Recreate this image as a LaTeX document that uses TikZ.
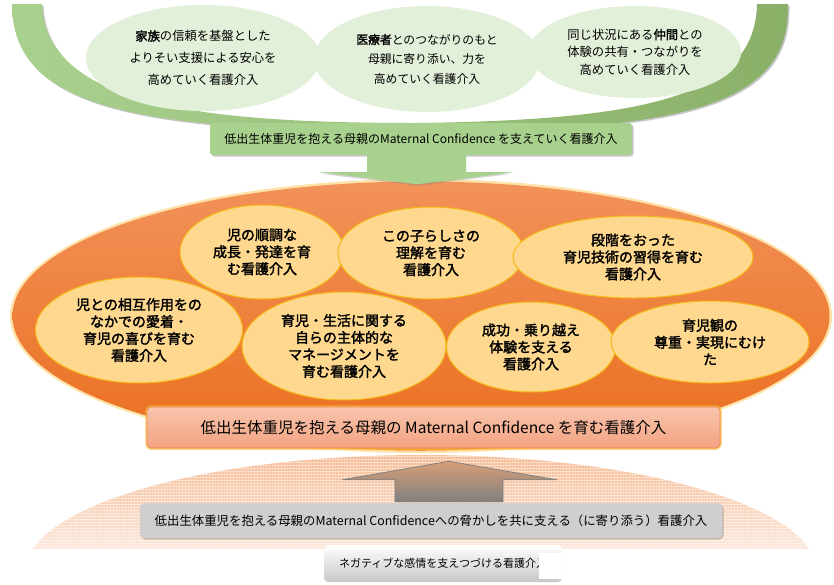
\documentclass[tikz,border=0pt]{standalone}
\usepackage{fontspec}
\setmainfont{Noto Sans CJK JP}[AutoFakeBold=2]
\usetikzlibrary{shapes.geometric,shadows,calc}
\definecolor{bandL}{RGB}{169,209,142}
\definecolor{bandR}{RGB}{138,176,104}
\definecolor{topell}{RGB}{226,239,217}
\definecolor{orTop}{RGB}{242,146,90}
\definecolor{orBot}{RGB}{234,110,30}
\definecolor{orGlow}{RGB}{255,190,60}
\definecolor{inFill}{RGB}{254,216,142}
\definecolor{inDraw}{RGB}{246,184,20}
\definecolor{pkTop}{RGB}{248,196,172}
\definecolor{pkBot}{RGB}{243,163,130}
\definecolor{pkDraw}{RGB}{232,135,80}
\definecolor{grFill}{RGB}{208,206,206}
\definecolor{domeTop}{RGB}{245,180,136}
\definecolor{domeBot}{RGB}{252,236,226}
\definecolor{arrGray}{RGB}{128,128,128}
\tikzset{
  topellipse/.style={ellipse, fill=topell, inner sep=0pt, align=center},
  inellipse/.style={ellipse, fill=inFill, draw=inDraw, line width=1pt, inner sep=0pt, align=center,
     font=\fontsize{14}{17}\selectfont\bfseries},
  softshadow/.style={drop shadow={opacity=0.45, shadow xshift=1.5pt, shadow yshift=-1.5pt}},
  greenbox/.style={rectangle, rounded corners=3pt, fill=bandL, softshadow, inner sep=0pt},
  graybox/.style={rectangle, rounded corners=4pt, fill=grFill, softshadow, inner sep=0pt},
  pinkbox/.style={rectangle, rounded corners=4pt, top color=pkTop, bottom color=pkBot, draw=pkDraw, line width=0.6pt,
     preaction={draw=orGlow, line width=3.5pt, opacity=0.7}, inner sep=0pt},
  whitebox/.style={rectangle, rounded corners=4pt, top color=white, bottom color=black!22, inner sep=0pt},
}
\begin{document}
\begin{tikzpicture}[x=1pt,y=-1pt]
\useasboundingbox (0,0) rectangle (834,584);

% ---- top green crescent ----
\path[softshadow, left color=bandL, middle color=bandL, right color=bandR]
  (12,4) .. controls (12,110) and (140,130) .. (417,132)
         .. controls (700,132) and (790,100) .. (788,4)
  -- (757,4) .. controls (755,95) and (650,120) .. (417,123)
         .. controls (200,123) and (46,105) .. (42,4) -- cycle;

% ---- top ellipses ----
\node[topellipse, minimum width=234pt, minimum height=106pt, font=\fontsize{12.3}{22}\selectfont] (t1) at (203,58)
  {\textbf{家族}の信頼を基盤とした\\よりそい支援による安心を\\高めていく看護介入};
\node[topellipse, minimum width=226pt, minimum height=106pt, font=\fontsize{11.8}{19.5}\selectfont] (t2) at (427,59)
  {\textbf{医療者}とのつながりのもと\\母親に寄り添い、力を\\高めていく看護介入};
\node[topellipse, minimum width=212pt, minimum height=92pt, font=\fontsize{12.3}{17.5}\selectfont] (t3) at (635,52)
  {同じ状況にある\textbf{仲間}との\\体験の共有・つながりを\\高めていく看護介入};

% ---- green label box ----
\node[greenbox, minimum width=422pt, minimum height=32pt, font=\fontsize{12}{14}\selectfont] (gbox) at (421,139)
  {\raisebox{-2pt}{低出生体重児を抱える母親のMaternal Confidence を支えていく看護介入}};

% ---- big orange ellipse ----
\node[ellipse, minimum width=822pt, minimum height=274pt, fill=orGlow, opacity=0.45] (oglow) at (421,316) {};
\node[ellipse, minimum width=817pt, minimum height=269pt, top color=orTop, bottom color=orBot, inner sep=0pt] (oell) at (421,316) {};

% ---- green block arrow (box -> orange ellipse) ----
\path[fill=bandL, drop shadow={opacity=0.35, shadow xshift=0pt, shadow yshift=-1.5pt}]
  ($(gbox.south)+(-54,0)$) -- ($(gbox.south)+(-54,17)$) -- ($(gbox.south)+(-101,17)$)
  -- ($(oell.north)+(-4,3)$) -- ($(gbox.south)+(92,17)$) -- ($(gbox.south)+(45,17)$)
  -- ($(gbox.south)+(45,0)$) -- cycle;

% ---- inner ellipses ----
\node[inellipse, minimum width=164pt, minimum height=94pt] (a) at (262,252) {児の順調な\\成長・発達を育\\む看護介入};
\node[inellipse, minimum width=186pt, minimum height=92pt] (b) at (431,253) {この子らしさの\\理解を育む\\看護介入};
\node[inellipse, minimum width=240pt, minimum height=82pt] (c) at (633,257) {段階をおった\\育児技術の習得を育む\\看護介入};
\node[inellipse, minimum width=207pt, minimum height=106pt] (d) at (139,330) {児との相互作用をの\\なかでの愛着・\\育児の喜びを育む\\看護介入};
\node[inellipse, minimum width=204pt, minimum height=108pt] (e) at (344,346) {育児・生活に関する\\自らの主体的な\\マネージメントを\\育む看護介入};
\node[inellipse, minimum width=169pt, minimum height=90pt] (f) at (531,347) {成功・乗り越え\\体験を支える\\看護介入};
\node[inellipse, minimum width=198pt, minimum height=82pt] (g) at (710,342) {育児観の\\尊重・実現にむけ\\た};

% ---- pink box ----
\node[pinkbox, minimum width=573pt, minimum height=41pt, font=\fontsize{15.5}{18}\selectfont] (pbox) at (433.5,427.5)
  {\raisebox{-4pt}{低出生体重児を抱える母親の Maternal Confidence を育む看護介入}};

% ---- lower dome ----
\begin{scope}
  \clip (0,0) rectangle (834,548);
  \clip (421,572) ellipse [x radius=396, y radius=117];
  \shade[top color=domeTop, bottom color=domeBot] (0,440) rectangle (834,560);
  \foreach \yy in {456,459,...,550} \draw[white, line width=0.9pt, opacity=0.45] (0,\yy) -- (834,\yy);
  \foreach \xx in {20,23,...,830} \draw[white, line width=0.6pt, opacity=0.25] (\xx,440) -- (\xx,560);
\end{scope}

% ---- gray box ----
\node[graybox, minimum width=582pt, minimum height=35pt, font=\fontsize{12.4}{14}\selectfont] (grbox) at (431,520.5)
  {低出生体重児を抱える母親のMaternal Confidenceへの脅かしを共に支える（に寄り添う）看護介入};

% ---- gray block arrow (gray box -> pink box) ----
\coordinate (gb) at ($(grbox.north)+(18,0)$);
\path[top color=black!12!domeTop, bottom color=black!50, draw=arrGray, line width=0.8pt]
  ($(gb)+(-54,-1)$) -- ($(gb)+(-54,-23)$) -- ($(gb)+(-107,-23)$)
  -- ($(pbox.south)+(15.5,13)$) -- ($(gb)+(108,-23)$) -- ($(gb)+(54,-23)$)
  -- ($(gb)+(54,-1)$) -- cycle;

% ---- small white box ----
\node[whitebox, minimum width=238pt, minimum height=37pt, font=\fontsize{11}{13}\selectfont] (wbox) at (443,563.5)
  {\raisebox{-3pt}{ネガティブな感情を支えつづける看護介入}};
\fill[white] ($(wbox.east)+(-23,-11)$) rectangle ($(wbox.east)+(0,15)$);
\end{tikzpicture}
\end{document}
